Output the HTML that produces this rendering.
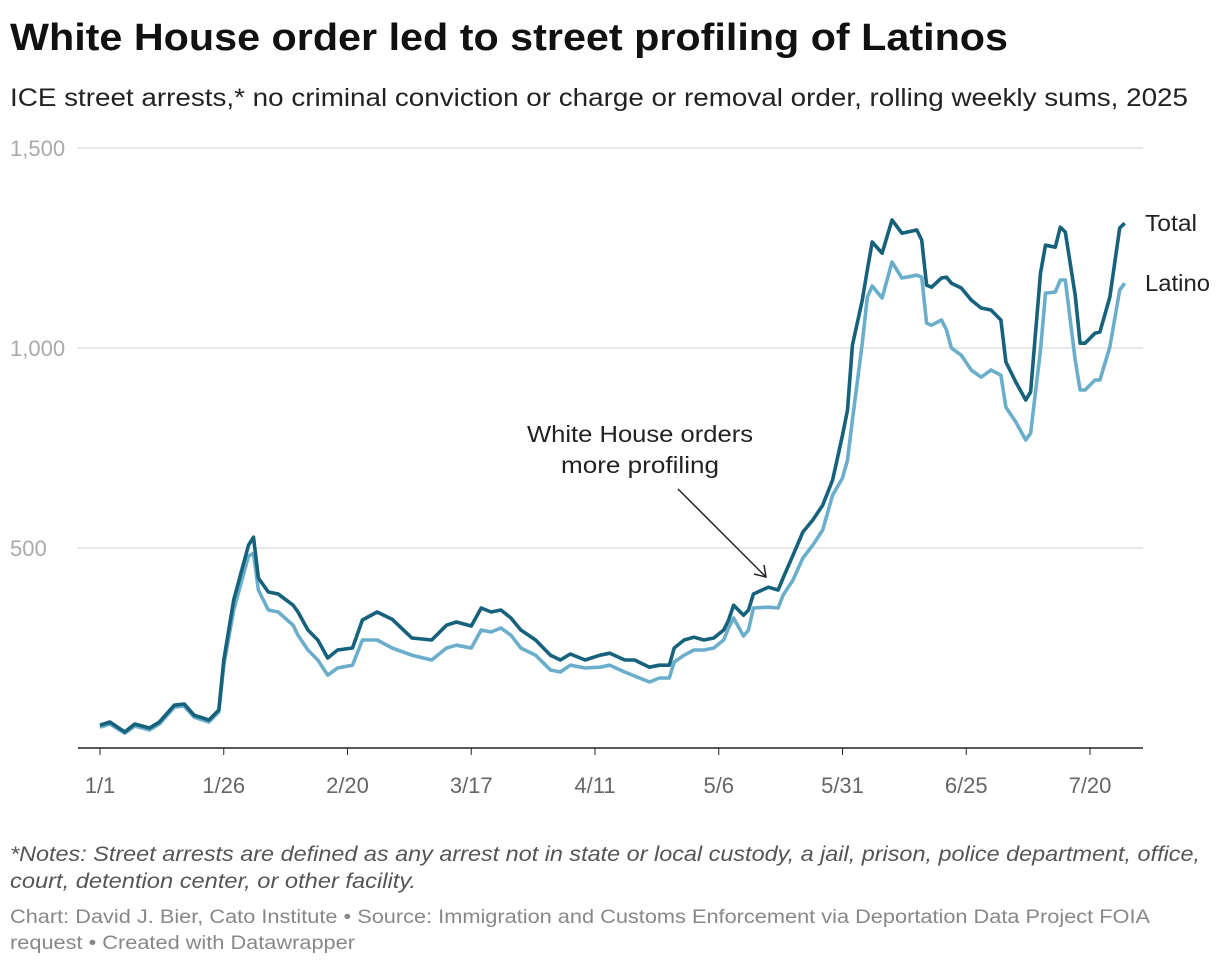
<!DOCTYPE html>
<html><head><meta charset="utf-8">
<style>
body{margin:0;background:#fff;width:1220px;height:966px;overflow:hidden;font-family:"Liberation Sans",sans-serif}
</style></head>
<body>
<svg width="1220" height="966" xmlns="http://www.w3.org/2000/svg" font-family="Liberation Sans, sans-serif">
<text x="10" y="50" font-size="38" font-weight="bold" fill="#111" textLength="998" lengthAdjust="spacingAndGlyphs">White House order led to street profiling of Latinos</text>
<text x="10" y="106" font-size="25" fill="#222" textLength="1178" lengthAdjust="spacingAndGlyphs">ICE street arrests,* no criminal conviction or charge or removal order, rolling weekly sums, 2025</text>
<g id="grid"></g>
<g id="xaxis"></g>
<g id="series"></g>
<text x="1145" y="231" font-size="23" fill="#222" textLength="52" lengthAdjust="spacingAndGlyphs">Total</text>
<text x="1145" y="291" font-size="23" fill="#222" textLength="65" lengthAdjust="spacingAndGlyphs">Latino</text>
<g>
<text x="527" y="442" font-size="23" fill="#222" textLength="226" lengthAdjust="spacingAndGlyphs">White House orders</text>
<text x="561" y="473" font-size="23" fill="#222" textLength="158" lengthAdjust="spacingAndGlyphs">more profiling</text>
<line x1="678" y1="489" x2="766" y2="577" stroke="#222" stroke-width="1.5"/>
<polyline points="754,574 766,577 764,565" fill="none" stroke="#222" stroke-width="1.5"/>
</g>
<text x="10" y="861" font-size="21" font-style="italic" fill="#555" textLength="1190" lengthAdjust="spacingAndGlyphs">*Notes: Street arrests are defined as any arrest not in state or local custody, a jail, prison, police department, office,</text>
<text x="10" y="888" font-size="21" font-style="italic" fill="#555" textLength="406" lengthAdjust="spacingAndGlyphs">court, detention center, or other facility.</text>
<text x="10" y="923" font-size="19" fill="#888" textLength="1140" lengthAdjust="spacingAndGlyphs">Chart: David J. Bier, Cato Institute • Source: Immigration and Customs Enforcement via Deportation Data Project FOIA</text>
<text x="10" y="949" font-size="19" fill="#888" textLength="345" lengthAdjust="spacingAndGlyphs">request • Created with Datawrapper</text>
</svg>
<script>
const days=[0,2,5,7,10,12,15,17,19,22,24,25,27,30,31,32,34,36,39,40,42,44,46,48,51,53,56,59,63,67,70,72,75,77,79,81,83,85,88,91,93,95,98,101,103,106,108,111,113,115,116,118,120,122,124,126,127,128,130,131,132,135,137,138,140,142,144,146,148,150,151,152,154,155,156,158,160,162,165,166,167,168,170,171,172,174,176,178,180,182,183,185,187,188,190,191,193,194,195,197,198,199,201,202,204,206,207];
const totalVals=[57,65,40,60,50,65,107,110,82,70,95,220,370,507,527,425,390,385,357,340,295,270,225,245,250,320,340,322,275,270,307,315,305,350,340,345,325,295,270,232,220,235,220,232,237,220,220,202,207,207,250,270,277,270,275,295,320,357,332,345,385,402,395,425,482,540,570,607,670,782,845,1007,1120,1195,1265,1237,1320,1287,1295,1270,1157,1152,1175,1177,1162,1150,1120,1100,1095,1070,965,915,870,890,1187,1257,1252,1302,1290,1132,1012,1012,1037,1040,1127,1300,1312];
const latinoVals=[52,60,37,55,45,60,102,105,77,65,90,207,345,480,487,395,345,340,307,282,245,220,182,200,207,270,270,250,232,220,250,257,250,295,290,300,282,250,232,195,190,207,200,202,207,190,180,165,175,175,215,232,245,245,250,270,300,325,280,295,350,352,350,382,420,475,507,545,632,675,720,820,1012,1127,1155,1125,1215,1175,1182,1177,1062,1057,1070,1045,1000,982,945,927,945,932,852,815,770,787,995,1137,1140,1170,1170,970,895,895,920,920,1002,1145,1162];
const yTicks=[500,1000,1500];
const yTickLabels=["500","1,000","1,500"];
const xTickDays=[0,25,50,75,100,125,150,175,200];
const xTickLabels=["1/1","1/26","2/20","3/17","4/11","5/6","5/31","6/25","7/20"];
const X=d=>100+d*4.95;
const Y=v=>748-v*0.4;
const NS="http://www.w3.org/2000/svg";
function mk(tag,attrs,parent){const e=document.createElementNS(NS,tag);for(const k in attrs)e.setAttribute(k,attrs[k]);parent.appendChild(e);return e;}
const grid=document.getElementById('grid');
yTicks.forEach((v,i)=>{
  const l=mk('line',{x1:78,x2:1143,y1:Y(v),y2:Y(v),stroke:'#e2e2e2','stroke-width':1.5},grid);
  
  
  const t=mk('text',{x:10,y:Y(v)+8,'font-size':22,fill:'#aaa'},grid);
  t.textContent=yTickLabels[i];
  
  
});
const xa=document.getElementById('xaxis');
const al=mk('line',{x1:78,x2:1143,y1:748,y2:748,stroke:'#222','stroke-width':1.5},xa);


xTickDays.forEach((d,i)=>{
  const tk=mk('line',{x1:X(d),x2:X(d),y1:748,y2:755,stroke:'#222','stroke-width':1},xa);
  
  
  const t=mk('text',{x:X(d),y:793,'font-size':22,fill:'#666','text-anchor':'middle'},xa);
  t.textContent=xTickLabels[i];
  
  
});
const s=document.getElementById('series');
function pts(vals){return days.map((d,i)=>X(d).toFixed(1)+','+Y(vals[i]).toFixed(1)).join(' ');}
const lat=mk('polyline',{points:pts(latinoVals),fill:'none',stroke:'#6aaecb','stroke-width':3.6,'stroke-linejoin':'round'},s);


const tot=mk('polyline',{points:pts(totalVals),fill:'none',stroke:'#16617b','stroke-width':3.6,'stroke-linejoin':'round'},s);


</script>
</body></html>
